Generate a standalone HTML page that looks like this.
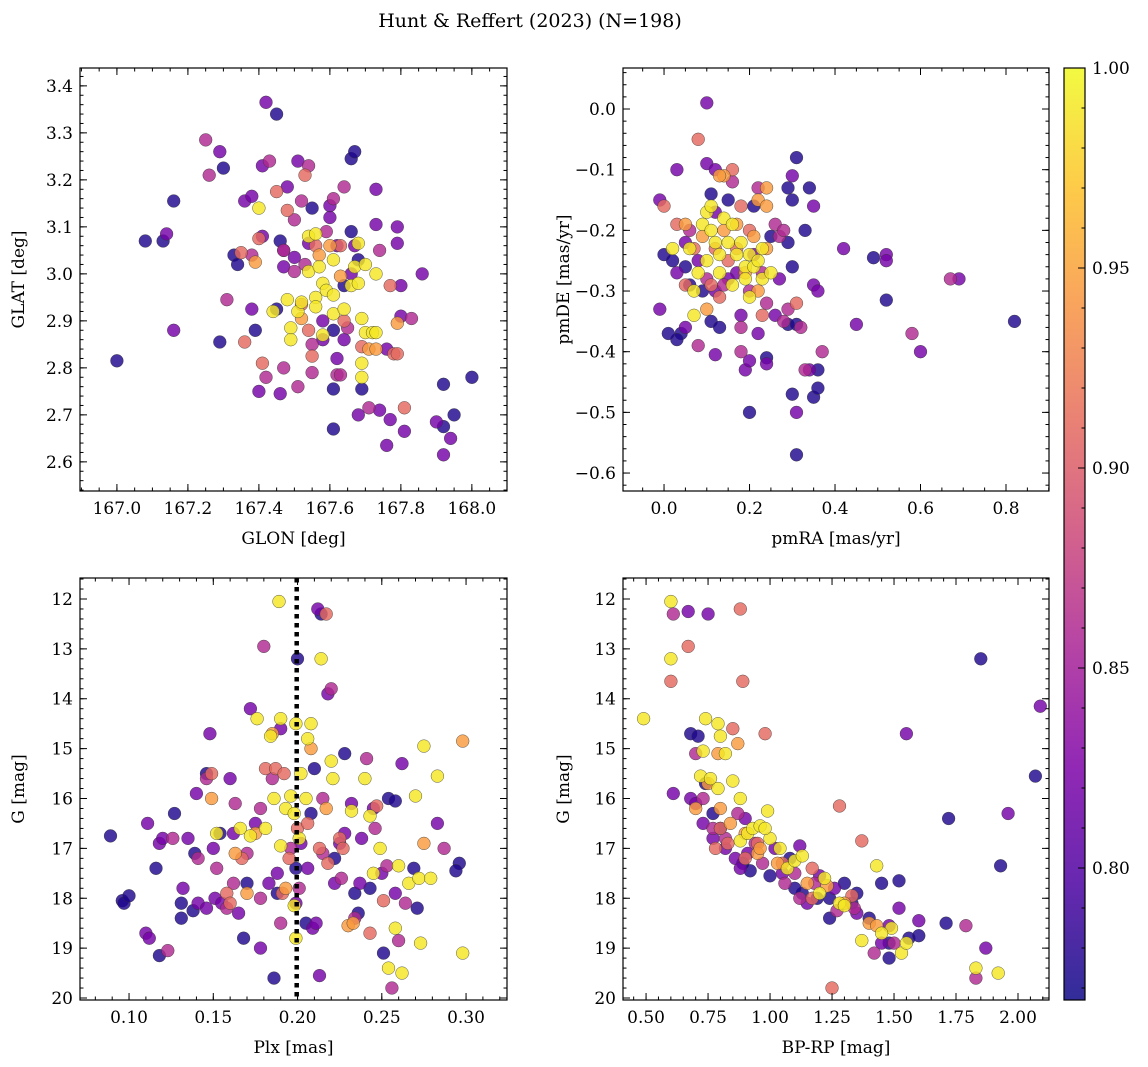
<!DOCTYPE html>
<html><head><meta charset="utf-8">
<style>
html,body{margin:0;padding:0;background:#fff;}
svg{display:block;font-family:"DejaVu Serif","Liberation Serif",serif;}
</style></head>
<body>
<svg id="fig" width="1148" height="1067" viewBox="0 0 1148 1067">
<text x="530" y="27" text-anchor="middle" font-size="19">Hunt &amp; Reffert (2023) (N=198)</text>
</svg>
<script>
// ---- data (probability groups: value, points [x,y]) ----
const probLevels = [0.775, 0.82, 0.86, 0.91, 0.945, 0.99];
const glonGlat = [
 [[167.00,2.815],[167.08,3.07],[167.13,3.07],[167.16,3.155],[167.30,3.225],[167.29,2.855],[167.33,3.04],[167.34,3.02],[167.39,2.88],[167.45,3.34],[167.45,2.925],[167.46,3.07],[167.55,3.14],[167.61,2.88],[167.61,2.755],[167.61,2.67],[167.64,2.975],[167.66,3.245],[167.66,3.09],[167.67,3.26],[167.68,3.03],[167.69,2.755],[167.92,2.765],[167.92,2.675],[167.95,2.70],[168.00,2.78]],
 [[167.14,3.085],[167.16,2.88],[167.29,3.26],[167.36,3.155],[167.38,3.165],[167.38,2.925],[167.41,3.08],[167.40,2.75],[167.42,3.365],[167.41,3.23],[167.46,2.745],[167.47,3.05],[167.47,3.015],[167.48,3.185],[167.50,3.035],[167.51,3.24],[167.54,3.065],[167.58,2.90],[167.58,2.86],[167.60,3.145],[167.60,3.12],[167.62,3.06],[167.62,2.82],[167.64,2.86],[167.66,3.00],[167.67,3.06],[167.68,2.70],[167.73,3.18],[167.73,3.105],[167.74,2.71],[167.76,2.84],[167.77,2.69],[167.76,2.635],[167.79,3.065],[167.79,3.10],[167.80,2.975],[167.80,2.91],[167.81,2.665],[167.86,3.00],[167.90,2.685],[167.94,2.65],[167.92,2.615]],
 [[167.25,3.285],[167.31,2.945],[167.38,3.04],[167.42,2.78],[167.43,3.24],[167.47,3.05],[167.47,2.80],[167.50,3.115],[167.50,3.005],[167.51,2.76],[167.52,3.155],[167.54,3.23],[167.53,3.02],[167.55,2.85],[167.55,2.79],[167.59,3.09],[167.61,3.16],[167.62,2.785],[167.63,2.785],[167.64,3.185],[167.65,2.885],[167.74,3.05],[167.71,2.715],[167.83,2.905],[167.26,3.21]],
 [[167.35,3.045],[167.36,2.855],[167.40,3.075],[167.41,2.81],[167.45,3.175],[167.48,3.135],[167.52,2.935],[167.53,3.21],[167.54,2.88],[167.55,2.825],[167.56,3.06],[167.63,3.06],[167.64,2.90],[167.69,2.845],[167.77,2.975],[167.78,2.83],[167.79,2.83],[167.81,2.715]],
 [[167.39,3.025],[167.52,2.905],[167.57,3.04],[167.60,3.06],[167.63,2.995],[167.71,2.84],[167.73,2.84],[167.79,2.895]],
 [[167.40,3.14],[167.44,2.92],[167.48,2.945],[167.49,2.885],[167.49,2.86],[167.51,2.92],[167.52,2.94],[167.54,3.08],[167.54,3.005],[167.56,3.085],[167.56,2.95],[167.56,2.93],[167.57,3.015],[167.58,2.87],[167.58,2.98],[167.59,2.965],[167.61,3.03],[167.61,2.955],[167.61,2.915],[167.64,2.925],[167.66,2.975],[167.67,3.015],[167.68,3.065],[167.68,2.98],[167.69,2.81],[167.69,2.905],[167.70,3.02],[167.69,2.78],[167.70,2.875],[167.72,2.875],[167.73,3.0],[167.73,2.875]]
];
const pmraPmde = [
 [[0.82,-0.35],[0.49,-0.245],[0.52,-0.315],[0.36,-0.43],[0.35,-0.475],[0.36,-0.46],[0.31,-0.57],[0.30,-0.47],[0.20,-0.50],[0.24,-0.41],[0.29,-0.355],[0.31,-0.355],[0.04,-0.37],[0.03,-0.38],[0.01,-0.37],[0.31,-0.08],[0.34,-0.13],[0.30,-0.15],[0.0,-0.24],[0.02,-0.25],[0.05,-0.26],[0.06,-0.29],[0.11,-0.14],[0.11,-0.35],[0.13,-0.36],[0.09,-0.30],[0.25,-0.21],[0.29,-0.22],[0.30,-0.26],[0.33,-0.20],[0.29,-0.13],[0.21,-0.16],[0.15,-0.15]],
 [[0.10,0.01],[0.03,-0.10],[0.10,-0.09],[0.12,-0.10],[0.30,-0.11],[0.35,-0.16],[0.69,-0.28],[0.60,-0.40],[0.52,-0.24],[0.52,-0.25],[0.45,-0.355],[0.42,-0.23],[0.31,-0.50],[0.24,-0.42],[0.34,-0.43],[0.19,-0.43],[0.20,-0.415],[0.12,-0.405],[-0.01,-0.33],[0.05,-0.36],[-0.01,-0.15],[0.05,-0.22],[0.08,-0.25],[0.12,-0.17],[0.12,-0.30],[0.17,-0.27],[0.22,-0.37],[0.27,-0.28],[0.35,-0.29],[0.36,-0.30],[0.15,-0.28],[0.18,-0.34],[0.03,-0.27],[0.26,-0.34],[0.21,-0.24]],
 [[0.16,-0.12],[0.22,-0.13],[0.67,-0.28],[0.58,-0.37],[0.37,-0.40],[0.33,-0.43],[0.28,-0.35],[0.18,-0.40],[0.06,-0.20],[0.10,-0.28],[0.18,-0.36],[0.20,-0.30],[0.23,-0.27],[0.26,-0.19],[0.24,-0.32],[0.08,-0.39],[0.14,-0.29],[0.27,-0.21],[0.29,-0.33],[0.32,-0.36],[0.28,-0.20]],
 [[0.08,-0.05],[0.0,-0.16],[0.16,-0.10],[0.03,-0.19],[0.07,-0.23],[0.11,-0.29],[0.13,-0.31],[0.15,-0.25],[0.20,-0.20],[0.23,-0.34],[0.18,-0.16],[0.05,-0.29],[0.12,-0.23],[0.31,-0.32],[0.17,-0.23]],
 [[0.14,-0.11],[0.24,-0.13],[0.22,-0.15],[0.05,-0.19],[0.09,-0.21],[0.13,-0.11],[0.17,-0.19],[0.21,-0.21],[0.24,-0.16],[0.10,-0.33],[0.22,-0.30],[0.14,-0.20],[0.19,-0.27],[0.24,-0.23]],
 [[0.02,-0.23],[0.06,-0.23],[0.07,-0.30],[0.07,-0.34],[0.09,-0.19],[0.10,-0.17],[0.11,-0.20],[0.12,-0.22],[0.13,-0.24],[0.13,-0.27],[0.14,-0.18],[0.15,-0.22],[0.16,-0.19],[0.17,-0.24],[0.18,-0.22],[0.19,-0.26],[0.19,-0.28],[0.20,-0.24],[0.20,-0.31],[0.21,-0.26],[0.22,-0.25],[0.23,-0.23],[0.23,-0.28],[0.25,-0.27],[0.08,-0.27],[0.10,-0.25],[0.11,-0.16],[0.16,-0.29]]
];
const plxG = [
 [[0.089,16.75],[0.096,18.05],[0.097,18.1],[0.100,17.95],[0.116,17.4],[0.118,19.15],[0.127,16.3],[0.131,18.1],[0.131,18.4],[0.138,18.25],[0.139,17.1],[0.146,15.5],[0.154,16.7],[0.168,18.8],[0.170,17.7],[0.188,17.9],[0.200,13.2],[0.199,17.4],[0.205,18.5],[0.208,16.3],[0.210,15.4],[0.214,12.3],[0.222,17.2],[0.228,15.1],[0.234,17.9],[0.243,17.8],[0.251,19.1],[0.254,16.0],[0.258,16.05],[0.269,17.4],[0.271,18.2],[0.296,17.3],[0.294,17.45],[0.186,19.6],[0.236,18.3]],
 [[0.110,18.7],[0.112,18.8],[0.111,16.5],[0.118,16.9],[0.120,16.8],[0.132,17.8],[0.135,16.8],[0.140,15.9],[0.141,18.1],[0.148,14.7],[0.150,17.0],[0.151,18.0],[0.155,18.1],[0.162,16.7],[0.165,18.3],[0.172,14.2],[0.175,16.5],[0.178,19.0],[0.183,17.7],[0.188,17.5],[0.190,14.6],[0.199,18.1],[0.202,16.9],[0.206,17.4],[0.209,18.6],[0.211,18.5],[0.212,12.2],[0.213,19.55],[0.218,13.9],[0.222,17.7],[0.225,16.9],[0.228,16.7],[0.232,16.1],[0.237,17.7],[0.238,16.8],[0.245,16.2],[0.250,17.5],[0.262,15.3],[0.258,17.9],[0.283,16.5],[0.146,18.2],[0.160,15.6]],
 [[0.123,19.05],[0.126,16.8],[0.141,17.2],[0.146,15.6],[0.152,17.4],[0.158,18.2],[0.162,17.7],[0.163,16.1],[0.170,17.1],[0.178,16.2],[0.180,12.95],[0.185,15.6],[0.190,18.5],[0.196,17.0],[0.201,17.8],[0.215,16.0],[0.215,17.1],[0.220,13.8],[0.226,17.6],[0.241,15.2],[0.246,16.6],[0.253,17.35],[0.256,19.8],[0.260,18.85],[0.264,18.1],[0.287,17.0],[0.234,18.4],[0.178,18.0]],
 [[0.149,15.5],[0.158,17.9],[0.160,18.1],[0.167,17.2],[0.181,15.4],[0.187,15.4],[0.192,15.5],[0.195,17.2],[0.200,16.6],[0.206,16.5],[0.213,17.0],[0.217,12.3],[0.218,17.3],[0.225,16.8],[0.243,18.7],[0.247,16.15],[0.251,18.05],[0.191,17.9],[0.227,17.0]],
 [[0.149,16.0],[0.163,17.1],[0.175,16.7],[0.185,14.7],[0.193,17.8],[0.208,15.0],[0.217,16.2],[0.230,18.55],[0.233,18.5],[0.275,16.9],[0.298,14.85],[0.170,17.9]],
 [[0.152,16.7],[0.166,16.6],[0.172,16.75],[0.176,14.4],[0.184,14.75],[0.189,12.05],[0.190,14.4],[0.193,16.2],[0.196,15.95],[0.198,16.3],[0.199,14.5],[0.201,16.8],[0.202,15.5],[0.205,16.0],[0.206,14.8],[0.208,14.5],[0.214,13.2],[0.220,15.25],[0.221,15.6],[0.232,16.25],[0.240,15.6],[0.243,16.35],[0.245,17.5],[0.249,17.0],[0.254,19.4],[0.258,18.6],[0.260,17.35],[0.262,19.5],[0.266,17.7],[0.270,15.95],[0.273,18.9],[0.272,17.6],[0.275,14.95],[0.279,17.6],[0.283,15.55],[0.298,19.1],[0.186,16.0],[0.199,18.8],[0.198,18.15],[0.190,16.95],[0.181,16.6]]
];
const bprpG = [
 [[0.68,14.7],[0.71,14.75],[0.74,15.7],[0.77,16.3],[0.80,16.6],[0.89,17.3],[0.92,17.45],[1.00,17.55],[1.08,17.2],[1.13,17.9],[1.19,18.0],[1.24,18.0],[1.30,17.7],[1.35,17.9],[1.40,18.4],[1.45,17.7],[1.48,18.9],[1.48,19.2],[1.52,17.65],[1.56,18.8],[1.60,18.75],[1.71,18.5],[1.72,16.4],[1.85,13.2],[1.93,17.35],[2.07,15.55],[1.24,18.4],[1.33,18.1],[1.10,17.8]],
 [[0.61,15.9],[0.67,12.25],[0.75,12.3],[0.68,16.0],[0.70,16.1],[0.73,16.5],[0.77,16.8],[0.82,17.0],[0.86,17.2],[0.88,17.4],[0.91,17.1],[1.02,17.0],[1.05,17.5],[1.12,16.95],[1.20,17.55],[1.26,17.8],[1.35,18.3],[1.45,18.9],[1.52,18.2],[1.55,14.7],[1.60,18.45],[1.87,19.0],[1.96,16.3],[2.09,14.15],[1.48,18.55],[0.90,16.4],[1.15,18.1]],
 [[0.61,12.3],[0.70,15.1],[0.73,16.0],[0.77,16.6],[0.87,16.3],[0.94,16.9],[1.06,17.7],[1.12,18.0],[1.18,17.7],[1.27,18.25],[1.34,18.2],[1.42,19.1],[1.50,18.9],[1.79,18.55],[1.83,19.6],[0.82,16.8],[1.10,17.5],[0.97,17.3]],
 [[0.60,13.65],[0.67,12.95],[0.88,12.2],[0.89,13.65],[0.85,14.6],[0.98,14.7],[0.78,17.0],[0.83,16.9],[0.95,16.9],[1.05,17.3],[1.17,17.4],[1.28,16.15],[1.25,19.8],[1.37,16.85],[1.17,18.0],[0.80,16.6],[0.90,17.2],[1.33,17.95]],
 [[0.75,15.7],[0.79,15.1],[0.80,16.2],[0.84,16.5],[0.90,16.7],[0.95,17.1],[1.03,17.3],[1.15,17.7],[1.23,17.75],[1.30,18.1],[1.40,18.5],[1.43,18.55],[0.70,16.2],[0.87,14.9],[0.96,17.0]],
 [[0.49,14.4],[0.60,12.05],[0.60,13.2],[0.72,15.55],[0.73,15.05],[0.74,14.4],[0.76,15.6],[0.79,14.5],[0.80,14.75],[0.79,15.8],[0.85,15.65],[0.88,16.85],[0.91,16.7],[0.93,16.6],[0.96,16.55],[0.99,16.25],[1.00,16.8],[1.07,17.4],[1.10,17.25],[1.13,17.15],[1.20,17.9],[1.28,18.1],[1.30,18.15],[1.37,18.85],[1.43,17.35],[1.49,18.6],[1.53,19.1],[1.55,18.9],[1.83,19.4],[1.92,19.5],[0.88,16.0],[0.98,16.6],[1.04,17.0],[1.22,17.6],[0.82,15.1],[1.45,18.7]]
];
const plxLine = 0.1995;
const cbTicks = [0.80, 0.85, 0.90, 0.95, 1.00];
const cbMin = 0.767, cbMax = 1.0;

// ---- helpers ----
const NS = "http://www.w3.org/2000/svg";
const svg = document.getElementById("fig");
function mk(tag, attrs, parent){const e=document.createElementNS(NS,tag);for(const k in attrs)e.setAttribute(k,attrs[k]);(parent||svg).appendChild(e);return e;}
const plasma=[[0,[13,8,135]],[0.125,[76,2,161]],[0.25,[126,3,168]],[0.375,[168,34,150]],[0.5,[204,71,120]],[0.625,[230,108,92]],[0.75,[248,149,64]],[0.875,[253,195,40]],[1,[240,249,33]]];
function cmap(t){t=Math.max(0,Math.min(1,t));for(let i=1;i<plasma.length;i++){if(t<=plasma[i][0]){const a=plasma[i-1],b=plasma[i];const f=(t-a[0])/(b[0]-a[0]);const c=a[1].map((v,j)=>Math.round(v+(b[1][j]-v)*f));return `rgb(${c[0]},${c[1]},${c[2]})`;}}return "rgb(240,249,33)";}
function fmt(v,d){return (v<0?"\u2212":"")+Math.abs(v).toFixed(d);}
const FS=17;

function panel(cfg){
 const {name,L,T,R,B,xd,yd,xt,xm,yt,ym,xdec,ydec,groups,xl,yl,ylx}=cfg;
 const g=mk("g",{});  
 const sx=v=>L+(v-xd[0])/(xd[1]-xd[0])*(R-L);
 const sy=v=>T+(v-yd[0])/(yd[1]-yd[0])*(B-T);
 const clip=mk("clipPath",{id:"c"+name},g); mk("rect",{x:L,y:T,width:R-L,height:B-T},clip);
 const pts=mk("g",{"clip-path":`url(#c${name})`},g);
 groups.forEach((grp,gi)=>{const col=cmap((probLevels[gi]-cbMin)/(cbMax-cbMin));
  grp.forEach(p=>{const c=mk("circle",{cx:sx(p[0]).toFixed(1),cy:sy(p[1]).toFixed(1),r:6.4,fill:col,"fill-opacity":0.82,stroke:"#333","stroke-width":0.5,"stroke-opacity":0.8},pts);
   
   });});
 if(cfg.vline!==undefined){const ln=mk("line",{x1:sx(cfg.vline),x2:sx(cfg.vline),y1:T,y2:B,stroke:"#000","stroke-width":4.5,"stroke-dasharray":"4.5 4.5"},pts);
  
  }
 const fr=mk("rect",{x:L,y:T,width:R-L,height:B-T,fill:"none",stroke:"#000","stroke-width":1.2},g);
 
 
 const tk=mk("g",{stroke:"#000","stroke-width":1},g);
 xm.forEach(v=>{const x=sx(v);if(x<L||x>R)return;mk("line",{x1:x,x2:x,y1:B,y2:B-3.5},tk);mk("line",{x1:x,x2:x,y1:T,y2:T+3.5},tk);});
 ym.forEach(v=>{const y=sy(v);if(y<T||y>B)return;mk("line",{x1:L,x2:L+3.5,y1:y,y2:y},tk);mk("line",{x1:R,x2:R-3.5,y1:y,y2:y},tk);});
 xt.forEach(v=>{const x=sx(v);mk("line",{x1:x,x2:x,y1:B,y2:B-7},tk);mk("line",{x1:x,x2:x,y1:T,y2:T+7},tk);
  const t=mk("text",{x:x,y:B+23,"text-anchor":"middle","font-size":FS},g);t.textContent=fmt(v,xdec);
  
  });
 yt.forEach(v=>{const y=sy(v);mk("line",{x1:L,x2:L+7,y1:y,y2:y},tk);mk("line",{x1:R,x2:R-7,y1:y,y2:y},tk);
  const t=mk("text",{x:L-7,y:y+6,"text-anchor":"end","font-size":FS},g);t.textContent=fmt(v,ydec);
  
  });
 const xt1=mk("text",{x:(L+R)/2,y:B+53,"text-anchor":"middle","font-size":FS},g);xt1.textContent=xl;
 
 
 const yt1=mk("text",{x:ylx,y:(T+B)/2,"text-anchor":"middle","font-size":FS,transform:`rotate(-90 ${ylx} ${(T+B)/2})`},g);yt1.textContent=yl;
 
 
}
function range(a,b,s){const o=[];for(let v=a;v<=b+s*1e-6;v+=s)o.push(Math.round(v/s)*s);return o;}

panel({name:"glon-glat-panel",L:80,T:68,R:507,B:491,xd:[166.896,168.099],yd:[3.438,2.538],
 xt:range(167,168,0.2),xm:range(166.9,168.1,0.05),yt:range(2.6,3.4,0.1),ym:range(2.54,3.44,0.02),xdec:1,ydec:1,
 groups:glonGlat,xl:"GLON [deg]",yl:"GLAT [deg]",ylx:24});
panel({name:"pm-panel",L:623,T:68,R:1049,B:491,xd:[-0.096,0.9006],yd:[0.0676,-0.6296],
 xt:range(0,0.8,0.2),xm:range(-0.1,0.9,0.05),yt:range(-0.6,0,0.1),ym:range(-0.62,0.06,0.02),xdec:1,ydec:1,
 groups:pmraPmde,xl:"pmRA [mas/yr]",yl:"pmDE [mas/yr]",ylx:569});
panel({name:"plx-g-panel",L:80,T:578,R:507,B:1000,xd:[0.0709,0.3243],yd:[11.579,20.04],
 xt:range(0.10,0.30,0.05),xm:range(0.07,0.32,0.01),yt:range(12,20,1),ym:range(11.6,20,0.2),xdec:2,ydec:0,
 groups:plxG,xl:"Plx [mas]",yl:"G [mag]",ylx:24,vline:plxLine});
panel({name:"cmd-panel",L:623,T:578,R:1049,B:1000,xd:[0.407,2.125],yd:[11.579,20.04],
 xt:range(0.5,2.0,0.25),xm:range(0.45,2.1,0.05),yt:range(12,20,1),ym:range(11.6,20,0.2),xdec:2,ydec:0,
 groups:bprpG,xl:"BP-RP [mag]",yl:"G [mag]",ylx:569});

// colorbar
(function(){
 const L=1064,R=1085,T=68,B=1000;
 const cb=mk("g",{});  
 const defs=mk("defs",{},cb); const lg=mk("linearGradient",{id:"cbg",x1:0,y1:1,x2:0,y2:0},defs);
 plasma.forEach(s=>mk("stop",{offset:s[0],"stop-color":`rgb(${s[1].join(",")})`,"stop-opacity":0.85},lg));
 mk("rect",{x:L,y:T,width:R-L,height:B-T,fill:"url(#cbg)",stroke:"#000","stroke-width":1.2},cb);
 const sy=v=>B-(v-cbMin)/(cbMax-cbMin)*(B-T);
 range(0.77,1.0,0.01).forEach(v=>{const y=sy(v);mk("line",{x1:R,x2:R-3.5,y1:y,y2:y,stroke:"#000"},cb);});
 cbTicks.forEach(v=>{const y=sy(v);mk("line",{x1:R,x2:R-7,y1:y,y2:y,stroke:"#000"},cb);
  const t=mk("text",{x:R+7,y:y+6,"font-size":FS},cb);t.textContent=v.toFixed(2);
  
  });
})();
</script>
</body></html>
